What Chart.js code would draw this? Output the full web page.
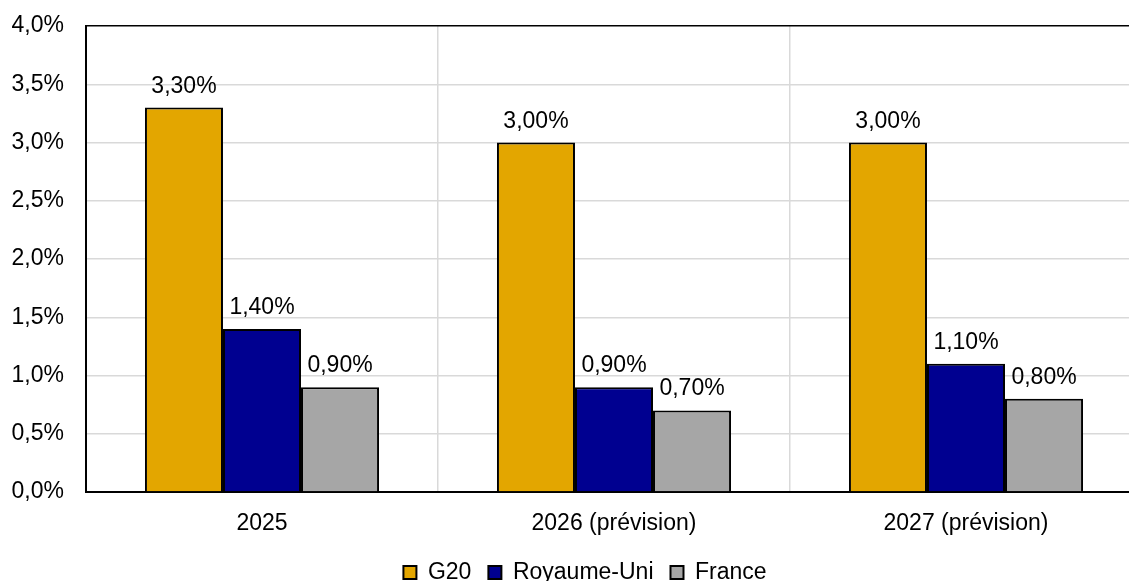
<!DOCTYPE html>
<html lang="fr">
<head>
<meta charset="utf-8">
<script src="https://cdn.jsdelivr.net/npm/chart.js@4"></script>
<style>
    html, body { margin: 0; padding: 0; background: #fff; overflow: hidden; }
    #wrap { width: 1170px; height: 594px; }
</style>
</head>
<body>
<div id="wrap"><canvas id="growthChart" width="1170" height="594"></canvas></div>
<script>
// Données
const categories = ['2025', '2026 (prévision)', '2027 (prévision)'];
const seriesNames = ['G20', 'Royaume-Uni', 'France'];
const g20Values = [3.3, 3.0, 3.0];
const ukValues = [1.4, 0.9, 1.1];
const franceValues = [0.9, 0.7, 0.8];
const yTicks = [0, 0.5, 1, 1.5, 2, 2.5, 3, 3.5, 4];

const seriesColors = ['#E3A600', '#000090', '#A6A6A6'];
const fontFamily = '"Liberation Sans", Arial, sans-serif';

function formatPct(v, digits) {
    return v.toFixed(digits).replace('.', ',') + '%';
}

// Étiquettes au-dessus des barres
const valueLabels = {
    id: 'valueLabels',
    afterDatasetsDraw(chart) {
        const ctx = chart.ctx;
        ctx.save();
        ctx.font = '23px ' + fontFamily;
        ctx.fillStyle = '#000';
        ctx.textAlign = 'center';
        ctx.textBaseline = 'alphabetic';
        chart.data.datasets.forEach((ds, i) => {
            chart.getDatasetMeta(i).data.forEach((bar, j) => {
                ctx.fillText(formatPct(ds.data[j], 2), bar.x, bar.y - 15);
            });
        });
        ctx.restore();
    }
};

const allValues = [g20Values, ukValues, franceValues];

new Chart(document.getElementById('growthChart'), {
    type: 'bar',
    data: {
        labels: categories,
        datasets: seriesNames.map((name, i) => ({
            label: name,
            data: allValues[i],
            backgroundColor: seriesColors[i],
            borderColor: '#000',
            borderWidth: 2,
            categoryPercentage: 0.665,
            barPercentage: 1
        }))
    },
    options: {
        responsive: false,
        animation: false,
        layout: { padding: { top: 26, left: 0, right: 0, bottom: 0 } },
        plugins: {
            tooltip: { enabled: false },
            legend: {
                position: 'bottom',
                labels: {
                    boxWidth: 13,
                    boxHeight: 13,
                    padding: 17,
                    color: '#000',
                    font: { family: fontFamily, size: 23 }
                }
            }
        },
        scales: {
            x: {
                grid: {
                    offset: true,
                    drawTicks: false,
                    lineWidth: 1.5,
                    color: c => c.index === categories.length ? '#000' : '#d9d9d9'
                },
                border: { color: '#000', width: 2 },
                ticks: {
                    padding: 18,
                    color: '#000',
                    font: { family: fontFamily, size: 23 }
                },
                afterFit: s => { s.height = 52; }
            },
            y: {
                min: 0,
                max: 4,
                afterBuildTicks: s => { s.ticks = yTicks.map(v => ({ value: v })); },
                grid: {
                    drawTicks: false,
                    lineWidth: 1.5,
                    color: c => (c.tick && c.tick.value === 4) ? '#000' : '#d9d9d9'
                },
                border: { color: '#000', width: 2 },
                ticks: {
                    padding: 22,
                    color: '#000',
                    font: { family: fontFamily, size: 23 },
                    callback: v => formatPct(v, 1)
                },
                afterFit: s => {
                    s.width = 86;
                    s.paddingTop = 0;
                    s.paddingBottom = 0;
                }
            },
            y2: {
                type: 'linear',
                position: 'right',
                grid: { display: false },
                border: { display: false },
                ticks: { display: false },
                afterFit: s => { s.width = 28; }
            }
        }
    },
    plugins: [valueLabels]
});
</script>
</body>
</html>
